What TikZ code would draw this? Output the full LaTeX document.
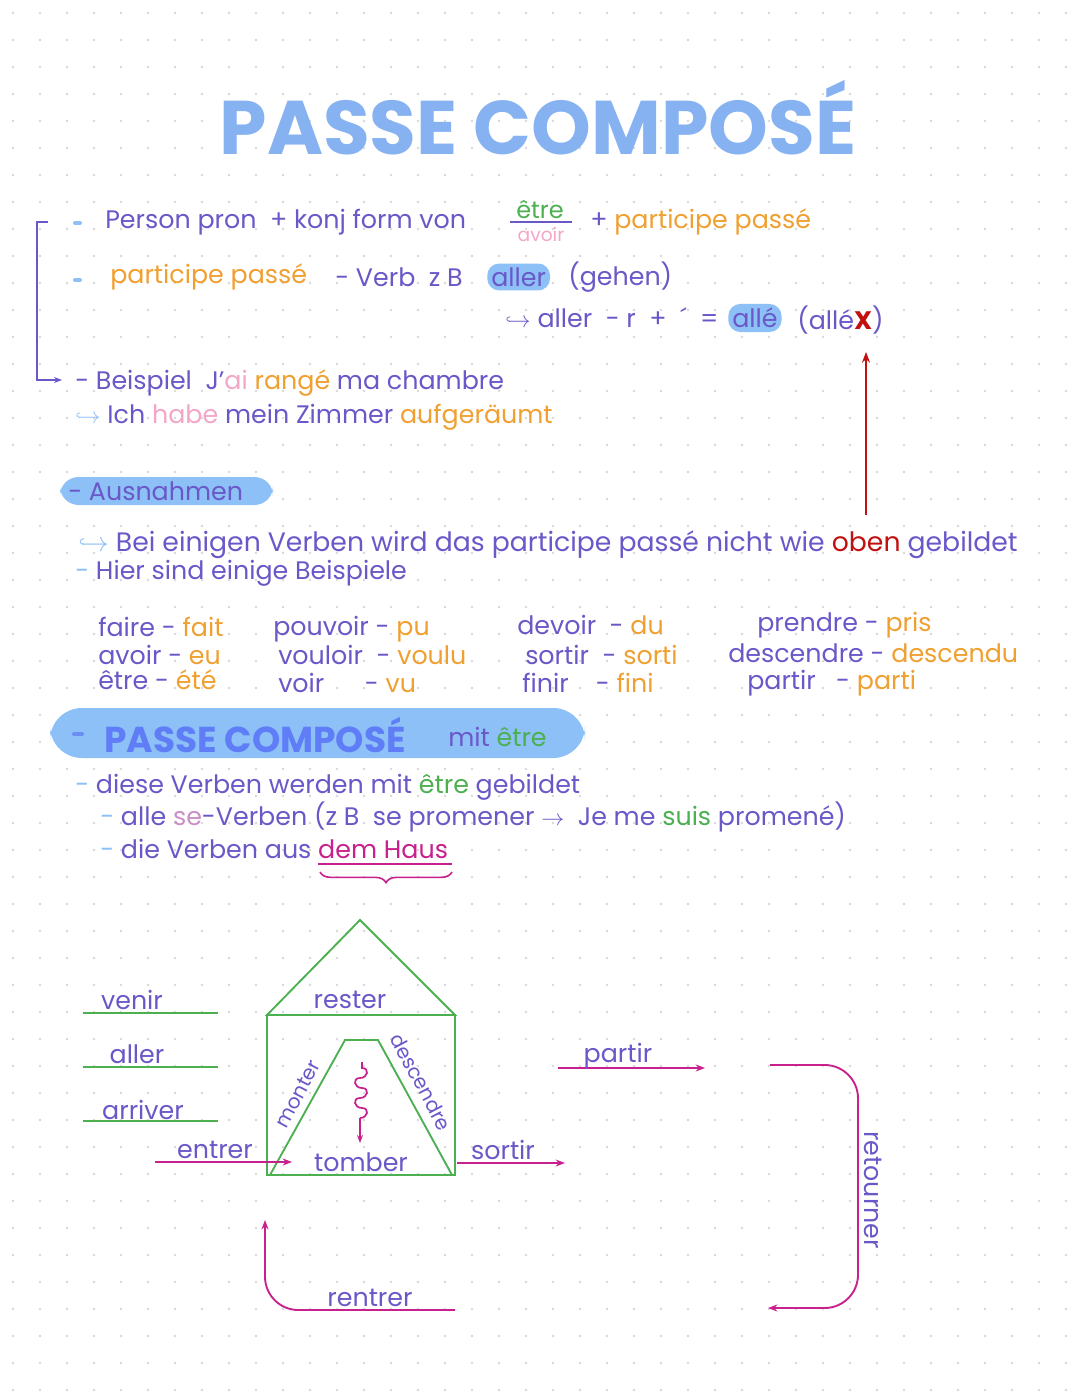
\documentclass[tikz,border=0pt]{standalone}
\usepackage{fontspec}
\setmainfont{Poppins}
\usetikzlibrary{arrows.meta,decorations.pathreplacing}
\definecolor{pu}{HTML}{6A58C8}
\definecolor{ti}{HTML}{86B2F2}
\definecolor{tio}{HTML}{6A7AE0}
\definecolor{og}{HTML}{F0A030}
\definecolor{gr}{HTML}{4CAF50}
\definecolor{pk}{HTML}{F4A6C8}
\definecolor{mg}{HTML}{C8208C}
\definecolor{rd}{HTML}{C01010}
\definecolor{hl}{HTML}{8CC0F6}
\definecolor{gd}{HTML}{D8D8D8}
\tikzset{
 t/.style={anchor=west,text=pu,font=\fontsize{19}{20}\selectfont,inner sep=0pt},
 hlb/.style={fill=hl,rounded corners=9pt,inner sep=3pt},
 gl/.style={draw=gr,line width=1.4pt},
 ml/.style={draw=mg,line width=1.4pt,-{Stealth[length=7pt]}},
 dsh/.style={draw=hl,line width=3pt,line cap=round}
}
\begin{document}
\begin{tikzpicture}[x=0.75pt,y=-0.75pt]
\useasboundingbox (0,0) rectangle (1080,1394);
\fill[white] (0,0) rectangle (1080,1394);
\foreach \i in {0,...,40}{\foreach \j in {0,...,51}{\fill[gd] (\i*27+13,\j*27+13) circle (1pt);}}
% title
\node[text=ti,font=\fontsize{57}{57}\selectfont\bfseries] (title) at (538,118) {PASSE COMPOSÉ};
% bracket
\draw[pu,line width=1.3pt,-{Stealth[length=6pt]}] (48,222) -- (37,222) -- (37,380) -- (62,380);
\draw[dsh] (75,223)--(80,223);
\node[t] (l1) at (105,222) {Person pron \ + konj form von};
\node[text=gr,font=\fontsize{18}{18}\selectfont,inner sep=0pt] (etre) at (540,210) {être};
\draw[pu,line width=1pt] (510,222)--(572,222);
\node[text=pk,font=\fontsize{14}{14}\selectfont,inner sep=0pt] (avoir) at (541,234) {avoir};
\node[t] (pp1) at (590,222) {+ \textcolor{og}{participe passé}};
\draw[dsh] (75,280)--(80,280);
\node[t,text=og] (pp2) at (110,277) {participe passé};
\node[t] (vb) at (335,277) {- Verb \ z B};
\node[t,hlb] (aller) at (487,277) {aller};
\node[t] (geh) at (568,277) {(gehen)};
\node[t] (l3) at (505,318) {$\hookrightarrow$ aller \ - r \ + \ ´ \ =};
\node[t,hlb] (alle) at (728,318) {allé};
\node[t] (alle2) at (797,320) {(allé\textcolor{rd}{\textbf{X}})};
\draw[rd,line width=1.5pt,-{Stealth[length=8pt]}] (866,515) -- (866,352);
\node[t] (bsp) at (75,383) {- Beispiel \ J'\textcolor{pk}{ai} \textcolor{og}{rangé} ma chambre};
\node[t] (ich) at (75,417) {\textcolor{hl}{$\hookrightarrow$} Ich \textcolor{pk}{habe} mein Zimmer \textcolor{og}{aufgeräumt}};
\fill[hl,rounded corners=14pt] (60,477) rectangle (273,505);
\node[t] (aus) at (68,491) {- Ausnahmen};
\node[t,font=\fontsize{20}{20}\selectfont] (bei) at (78,545) {\textcolor{hl}{$\hookrightarrow$} Bei einigen Verben wird das participe passé nicht wie \textcolor{rd}{oben} gebildet};
\node[t] (hier) at (75,573) {\textcolor{hl}{-} Hier sind einige Beispiele};
% table
\node[t] (c1a) at (98,627) {faire - \textcolor{og}{fait}};
\node[t] (c1b) at (98,655) {avoir - \textcolor{og}{eu}};
\node[t] (c1c) at (98,680) {être - \textcolor{og}{été}};
\node[t] (c2a) at (273,629) {pouvoir - \textcolor{og}{pu}};
\node[t] (c2b) at (278,655) {vouloir \ - \textcolor{og}{voulu}};
\node[t] (c2c) at (278,683) {voir \ \ \ \ \ - \textcolor{og}{vu}};
\node[t] (c3a) at (517,625) {devoir \ - \textcolor{og}{du}};
\node[t] (c3b) at (525,655) {sortir \ - \textcolor{og}{sorti}};
\node[t] (c3c) at (522,683) {finir \ \ \ - \textcolor{og}{fini}};
\node[t] (c4a) at (757,625) {prendre - \textcolor{og}{pris}};
\node[t] (c4b) at (728,653) {descendre - \textcolor{og}{descendu}};
\node[t] (c4c) at (747,683) {partir \ \ - \textcolor{og}{parti}};
% pill
\fill[hl,rounded corners=24pt] (50,708) rectangle (585,758);
\draw[line width=3pt,draw=ti!80!blue,line cap=round] (74,734)--(82,734);
\node[t,text=ti!70!blue,font=\fontsize{27}{27}\selectfont\bfseries] (pc2) at (104,735) {PASSE COMPOSÉ};
\node[t] (mit) at (448,737) {mit \textcolor{gr}{être}};
\node[t] (diese) at (75,787) {\textcolor{hl}{-} diese Verben werden mit \textcolor{gr}{être} gebildet};
\node[t] (se) at (100,817) {\textcolor{hl}{-} alle \textcolor{pk!70!pu}{se}-Verben (z B \ se promener $\rightarrow$ \ Je me \textcolor{gr}{suis} promené)};
\node[t] (die) at (100,849) {\textcolor{hl}{-} die Verben aus \textcolor{mg}{dem Haus}};
\draw[mg,line width=1.1pt] (318,864)--(452,864);
\draw[mg,line width=1.2pt,decorate,decoration={brace,amplitude=8pt,mirror}] (320,872) -- (452,872);
% house
\draw[gl] (267,1015) -- (360,920) -- (455,1015) -- cycle;
\draw[gl] (267,1015) rectangle (455,1175);
\draw[gl] (270,1175) -- (345,1040) -- (378,1040) -- (452,1175);
\node[t,anchor=center] (rester) at (350,1000) {rester};
\node[t,anchor=center,rotate=62,font=\fontsize{15}{15}\selectfont] (monter) at (298,1094) {monter};
\node[t,anchor=center,rotate=-62,font=\fontsize{15}{15}\selectfont] (desc) at (421,1082) {descendre};
\node[t,anchor=center] (tomber) at (361,1162) {tomber};
\draw[mg,line width=1.3pt] (362,1062) -- (362,1068) to[out=0,in=0,looseness=2] (360,1078) to[out=180,in=180,looseness=2] (362,1088) to[out=0,in=0,looseness=2] (360,1098) to[out=180,in=180,looseness=2] (362,1108) to[out=0,in=0,looseness=2] (360,1118);
\draw[mg,line width=1.3pt,-{Stealth[length=6pt]}] (360,1118) -- (360,1143);
% left lines
\draw[gl] (83,1013)--(218,1013); \node[t,anchor=center] (venir) at (132,1000) {venir};
\draw[gl] (83,1067)--(218,1067); \node[t,anchor=center] (aller3) at (137,1054) {aller};
\draw[gl] (83,1121)--(218,1121); \node[t,anchor=center] (arr) at (143,1110) {arriver};
\coordinate (e1) at (155,1162); \coordinate (e2) at (292,1162);
\draw[ml] (e1) -- (e2); \node[t,anchor=center] (entrer) at (215,1150) {entrer};
\coordinate (s1) at (457,1163); \coordinate (s2) at (565,1163);
\draw[ml] (s1) -- (s2); \node[t,anchor=center] (sortir) at (503,1150) {sortir};
\coordinate (p1) at (558,1068); \coordinate (p2) at (705,1068);
\draw[ml] (p1) -- (p2); \node[t,anchor=center] (partir) at (618,1056) {partir};
\coordinate (r1) at (770,1065); \coordinate (r2) at (768,1308);
\draw[ml,rounded corners=25pt] (r1) -- (858,1065) -- (858,1308) -- (r2);
\node[t,anchor=center,rotate=-90] (ret) at (873,1190) {retourner};
\coordinate (n1) at (455,1310); \coordinate (n2) at (265,1220);
\draw[ml,rounded corners=25pt] (n1) -- (265,1310) -- (n2);
\node[t,anchor=center] (rentrer) at (370,1298) {rentrer};
\end{tikzpicture}
\end{document}
